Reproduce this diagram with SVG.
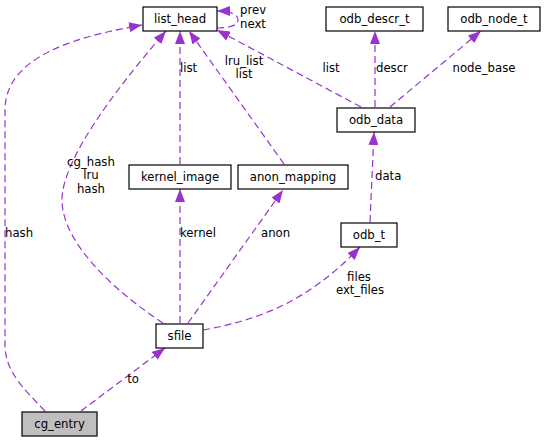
<svg xmlns="http://www.w3.org/2000/svg" width="547" height="443" viewBox="0 0 547 443">
<style>
.node rect{fill:#ffffff;stroke:#000000;stroke-width:1.2}
.node.hl rect{fill:#bfbfbf}
text{font-family:"DejaVu Sans","Liberation Sans",sans-serif;font-size:11.7px;fill:#000000}
.node text{text-anchor:middle}
.edge path{fill:none;stroke:#9a32cd;stroke-width:1.2;stroke-dasharray:7,4;marker-end:url(#ah)}
.lbl{text-anchor:middle}
.lbs{text-anchor:start}
</style>
<defs>
<marker id="ah" viewBox="0 0 13 10" refX="13" refY="5" markerWidth="13" markerHeight="10" markerUnits="userSpaceOnUse" orient="auto">
<path d="M0,0 L13,5 L0,10 z" fill="#9a32cd" stroke="none"/>
</marker>
</defs>
<rect width="547" height="443" fill="#ffffff"/>
<g id="connectors">
<g class="edge" id="e-hash"><path d="M45,411 C25,390 5,372 5,345 L5,110 C5,55 80,36 142,25"/><text class="lbs" x="5" y="237">hash</text></g>
<g class="edge" id="e-to"><path d="M81,411 L165,348"/><text class="lbl" x="133" y="383">to</text></g>
<g class="edge" id="e-cg"><path d="M163,323 C120,295 62,245 62,200 C62,160 115,90 166,31"/><text class="lbl" x="91" y="166">cg_hash</text><text class="lbl" x="91" y="179">lru</text><text class="lbl" x="91" y="193">hash</text></g>
<g class="edge" id="e-kernel"><path d="M180,323 L180,189"/><text class="lbs" x="180" y="237">kernel</text></g>
<g class="edge" id="e-list1"><path d="M180,164 L180,31"/><text class="lbs" x="180" y="72">list</text></g>
<g class="edge" id="e-anon"><path d="M188,323 L283,190"/><text class="lbs" x="261" y="237">anon</text></g>
<g class="edge" id="e-lru"><path d="M284,164 L189,31"/><text class="lbl" x="244" y="65">lru_list</text><text class="lbl" x="244" y="78">list</text></g>
<g class="edge" id="e-files"><path d="M203,330 C260,320 310,300 360,247"/><text class="lbl" x="359" y="281">files</text><text class="lbl" x="360" y="294">ext_files</text></g>
<g class="edge" id="e-data"><path d="M370,222 L374,132"/><text class="lbs" x="375" y="180">data</text></g>
<g class="edge" id="e-list2"><path d="M361,107 L217,30"/><text class="lbl" x="331" y="72">list</text></g>
<g class="edge" id="e-descr"><path d="M375,107 L375,31"/><text class="lbs" x="376" y="72">descr</text></g>
<g class="edge" id="e-node"><path d="M390,107 L481,31"/><text class="lbl" x="484" y="72">node_base</text></g>
<g class="edge" id="e-self"><path d="M217,28 C228,28 238,26 238,20 C238,14 230,11 217,11"/><text class="lbs" x="240" y="14">prev</text><text class="lbs" x="240" y="28">next</text></g>
</g>
<g class="node" id="list_head"><rect x="143" y="7" width="74" height="24"/><text x="180" y="23">list_head</text></g>
<g class="node" id="odb_descr_t"><rect x="326" y="7" width="97" height="24"/><text x="374.5" y="23">odb_descr_t</text></g>
<g class="node" id="odb_node_t"><rect x="448" y="7" width="92" height="24"/><text x="494" y="23">odb_node_t</text></g>
<g class="node" id="odb_data"><rect x="337" y="108" width="78" height="24"/><text x="376" y="124">odb_data</text></g>
<g class="node" id="kernel_image"><rect x="129" y="165" width="102" height="24"/><text x="180" y="181">kernel_image</text></g>
<g class="node" id="anon_mapping"><rect x="238" y="165" width="110" height="24"/><text x="293" y="181">anon_mapping</text></g>
<g class="node" id="odb_t"><rect x="341" y="223" width="56" height="24"/><text x="369" y="239">odb_t</text></g>
<g class="node" id="sfile"><rect x="156" y="324" width="47" height="24"/><text x="179.5" y="340">sfile</text></g>
<g class="node hl" id="cg_entry"><rect x="22" y="412" width="75" height="24"/><text x="59.5" y="428">cg_entry</text></g>
</svg>
